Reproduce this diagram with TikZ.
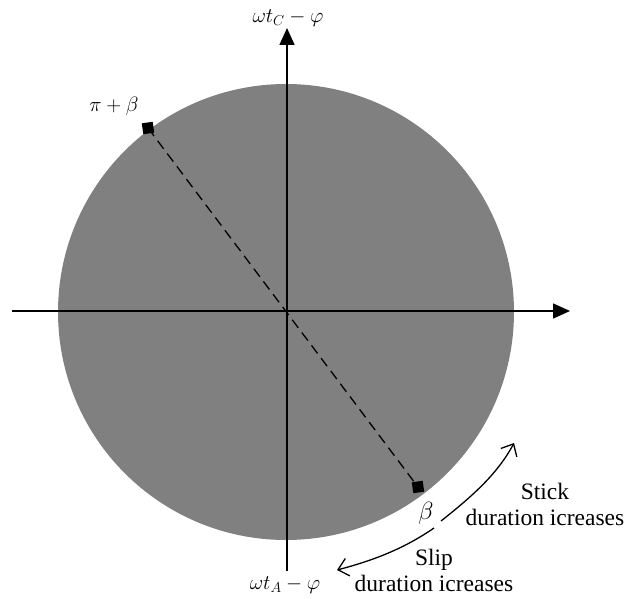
\documentclass[tikz,border=0pt]{standalone}
\usepackage{fontspec}
\setmainfont{Liberation Serif}
\usetikzlibrary{arrows.meta}
\definecolor{diskgray}{RGB}{128,128,128}
\begin{document}
\begin{tikzpicture}[x=1pt,y=-1pt,
  axisline/.style={line width=1.6pt,-{Triangle[length=17pt,width=15pt]}},
  marker/.style={fill=black,draw=none,minimum size=11pt,inner sep=0pt,rotate=8},
  lbl/.style={font=\fontsize{23.5}{26}\selectfont,align=center,inner sep=0pt},
  mlbl/.style={font=\fontsize{21}{23}\selectfont,inner sep=0pt},
  bentarrow/.style={line width=1.3pt,-{Straight Barb[length=10pt,width=18pt,line width=1.3pt]}}]
\useasboundingbox (0,0) rectangle (626,599);
\coordinate (O) at (286,312);
\fill[diskgray] (O) circle[radius=228pt];
\coordinate (xl) at (12,311);
\coordinate (xr) at (570,311);
\coordinate (yb) at (287,571);
\coordinate (yt) at (287,28);
\draw[axisline] (xl) -- (xr);
\draw[axisline] (yb) -- (yt);
\node[marker] (pb) at (148,128) {};
\node[marker] (b) at (418,487) {};
\draw[line width=1.3pt,dash pattern=on 10pt off 6pt] (pb.center) -- (b.center);
\node[mlbl] (tc) at (288,18) {$\omega t_C-\varphi$};
\node[mlbl] (ta) at (285,585) {$\omega t_A-\varphi$};
\node[mlbl] (lpb) at (114,106) {$\pi+\beta$};
\node[font=\fontsize{26}{28}\selectfont,inner sep=0pt] (lb) at (426,513) {$\beta$};
\node[lbl] (stick) at (545,504) {Stick\\duration icreases};
\node[lbl] (slip) at (434,570) {Slip\\duration icreases};
\coordinate (a1) at (441,521);
\coordinate (a2) at (514,443);
\coordinate (a3) at (434,528);
\coordinate (a4) at (337,570);
\draw[bentarrow] (a1) .. controls (470,498) and (497,475) .. (a2);
\draw[bentarrow] (a3) .. controls (405,548) and (375,560) .. (a4);
\end{tikzpicture}
\end{document}
